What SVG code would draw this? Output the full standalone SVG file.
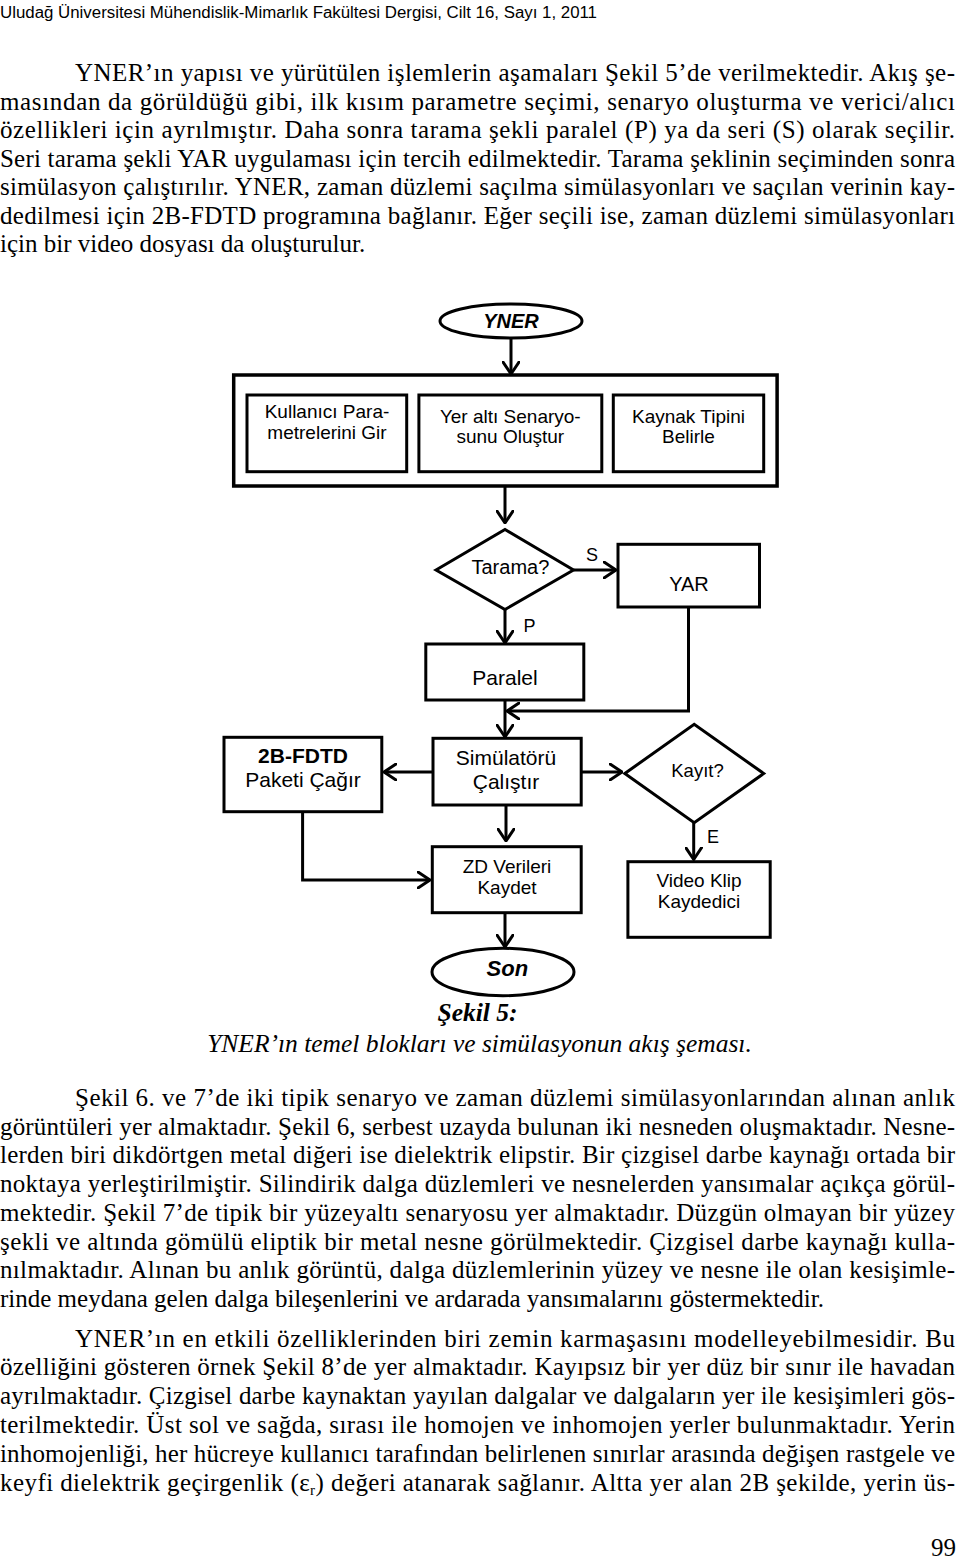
<svg xmlns="http://www.w3.org/2000/svg" width="960" height="1559" viewBox="0 0 960 1559">
<defs>
<style>
.body{font-family:"Liberation Serif","Times New Roman",serif;font-size:25px;fill:#000}
.hdr{font-family:"Liberation Sans",Arial,sans-serif;font-size:16px;fill:#000}
.box{fill:#fff;stroke:#000;stroke-width:3}
.lbl{font-family:"Liberation Sans",Arial,sans-serif;fill:#000;text-anchor:middle}
.f19{font-size:19px}
.f20{font-size:20px}
.f21{font-size:21px}
.bi{font-weight:bold;font-style:italic}
.b{font-weight:bold}
.edge{fill:none;stroke:#000;stroke-width:3}
.elbl{font-family:"Liberation Sans",Arial,sans-serif;font-size:18px;fill:#000}
.cap{font-family:"Liberation Serif","Times New Roman",serif;font-size:25.5px;font-style:italic;fill:#000}
</style>
<marker id="ah" viewBox="0 0 14 18" refX="13" refY="9" markerWidth="14" markerHeight="18" markerUnits="userSpaceOnUse" orient="auto">
<path d="M1,1 L13,9 L1,17" fill="none" stroke="#000" stroke-width="3" stroke-linecap="round" stroke-linejoin="round"/>
</marker>
</defs>
<rect width="960" height="1559" fill="#fff"/>

<g id="header">
<text class="hdr" x="0" y="18" textLength="597" lengthAdjust="spacingAndGlyphs">Uludağ Üniversitesi Mühendislik-Mimarlık Fakültesi Dergisi, Cilt 16, Sayı 1, 2011</text>
</g>

<g id="para1">
<text class="body" x="75" y="81" textLength="880" lengthAdjust="spacing">YNER’ın yapısı ve yürütülen işlemlerin aşamaları Şekil 5’de verilmektedir. Akış şe-</text>
<text class="body" x="0" y="109.5" textLength="955" lengthAdjust="spacing">masından da görüldüğü gibi, ilk kısım parametre seçimi, senaryo oluşturma ve verici/alıcı</text>
<text class="body" x="0" y="138" textLength="955" lengthAdjust="spacing">özellikleri için ayrılmıştır. Daha sonra tarama şekli paralel (P) ya da seri (S) olarak seçilir.</text>
<text class="body" x="0" y="166.5" textLength="955" lengthAdjust="spacing">Seri tarama şekli YAR uygulaması için tercih edilmektedir. Tarama şeklinin seçiminden sonra</text>
<text class="body" x="0" y="195" textLength="955" lengthAdjust="spacing">simülasyon çalıştırılır. YNER, zaman düzlemi saçılma simülasyonları ve saçılan verinin kay-</text>
<text class="body" x="0" y="223.5" textLength="955" lengthAdjust="spacing">dedilmesi için 2B-FDTD programına bağlanır. Eğer seçili ise, zaman düzlemi simülasyonları</text>
<text class="body" x="0" y="252">için bir video dosyası da oluşturulur.</text>
</g>

<g id="connectors">
<line class="edge" x1="511" y1="338" x2="511" y2="374" marker-end="url(#ah)"/>
<line class="edge" x1="505" y1="487" x2="505" y2="523" marker-end="url(#ah)"/>
<line class="edge" x1="573.5" y1="570" x2="616" y2="570" marker-end="url(#ah)"/>
<line class="edge" x1="505" y1="609.5" x2="505" y2="643" marker-end="url(#ah)"/>
<line class="edge" x1="505" y1="700" x2="505" y2="737" marker-end="url(#ah)"/>
<polyline class="edge" points="688.5,607 688.5,711 507,711" marker-end="url(#ah)"/>
<line class="edge" x1="433" y1="772" x2="384" y2="772" marker-end="url(#ah)"/>
<line class="edge" x1="581" y1="772" x2="622" y2="772" marker-end="url(#ah)"/>
<line class="edge" x1="506" y1="805" x2="506" y2="841" marker-end="url(#ah)"/>
<polyline class="edge" points="302.6,811.7 302.6,880 430,880" marker-end="url(#ah)"/>
<line class="edge" x1="693.7" y1="822.7" x2="693.7" y2="859.5" marker-end="url(#ah)"/>
<line class="edge" x1="505" y1="912.7" x2="505" y2="947" marker-end="url(#ah)"/>
<text class="elbl" x="586" y="561">S</text>
<text class="elbl" x="523.4" y="632">P</text>
<text class="elbl" x="707" y="843.3">E</text>
</g>

<g id="n-yner">
<ellipse class="box" cx="511" cy="321" rx="71" ry="17"/>
<text class="lbl f20 bi" x="511" y="328">YNER</text>
</g>

<g id="n-group">
<rect class="box" x="233.7" y="375" width="543.4" height="111" style="stroke-width:3.5"/>
</g>

<g id="n-kullanici">
<rect class="box" x="247" y="395" width="159.7" height="76.7"/>
<text class="lbl f19" x="327" y="418">Kullanıcı Para-</text>
<text class="lbl f19" x="327" y="439">metrelerini Gir</text>
</g>

<g id="n-senaryo">
<rect class="box" x="418.9" y="395" width="182.9" height="76.7"/>
<text class="lbl f19" x="510.3" y="423">Yer altı Senaryo-</text>
<text class="lbl f19" x="510.3" y="443">sunu Oluştur</text>
</g>

<g id="n-kaynak">
<rect class="box" x="613.3" y="395" width="150.4" height="76.7"/>
<text class="lbl f19" x="688.5" y="423">Kaynak Tipini</text>
<text class="lbl f19" x="688.5" y="443">Belirle</text>
</g>

<g id="n-tarama">
<polygon class="box" points="436,570 505,529.5 573.5,570 505,609.5"/>
<text class="lbl f20" x="510.4" y="574">Tarama?</text>
</g>

<g id="n-yar">
<rect class="box" x="618" y="544.3" width="141.5" height="62.7"/>
<text class="lbl f20" x="689" y="590.7">YAR</text>
</g>

<g id="n-paralel">
<rect class="box" x="425.8" y="644" width="158" height="56"/>
<text class="lbl f21" x="505" y="685">Paralel</text>
</g>

<g id="n-simulator">
<rect class="box" x="433" y="738.3" width="148.2" height="66.7"/>
<text class="lbl f21" x="506" y="765">Simülatörü</text>
<text class="lbl f21" x="506" y="789">Çalıştır</text>
</g>

<g id="n-fdtd">
<rect class="box" x="224" y="737.3" width="157.8" height="74.4"/>
<text class="lbl f21 b" x="303" y="762.7">2B-FDTD</text>
<text class="lbl f21" x="303" y="786.7">Paketi Çağır</text>
</g>

<g id="n-kayit">
<polygon class="box" points="624.8,773.5 694.2,724.3 763.7,773.5 694.2,822.7"/>
<text class="lbl" style="font-size:18.5px" x="697.5" y="777.3">Kayıt?</text>
</g>

<g id="n-zd">
<rect class="box" x="432.3" y="846.7" width="148.9" height="66"/>
<text class="lbl f19" x="507" y="873.3">ZD Verileri</text>
<text class="lbl f19" x="507" y="894">Kaydet</text>
</g>

<g id="n-video">
<rect class="box" x="627.9" y="861.7" width="142.3" height="75.6"/>
<text class="lbl f19" x="699" y="887.3">Video Klip</text>
<text class="lbl f19" x="699" y="908.3">Kaydedici</text>
</g>

<g id="n-son">
<ellipse class="box" cx="503" cy="972" rx="71" ry="23.7"/>
<text class="lbl bi" style="font-size:22px" x="507.4" y="975.7">Son</text>
</g>

<g id="caption">
<text class="cap" style="font-weight:bold" x="477.5" y="1020.7" text-anchor="middle">Şekil 5:</text>
<text class="cap" x="479.5" y="1052" text-anchor="middle">YNER’ın temel blokları ve simülasyonun akış şeması.</text>
</g>

<g id="para2">
<text class="body" x="75" y="1106" textLength="880" lengthAdjust="spacing">Şekil 6. ve 7’de iki tipik senaryo ve zaman düzlemi simülasyonlarından alınan anlık</text>
<text class="body" x="0" y="1134.7" textLength="955" lengthAdjust="spacing">görüntüleri yer almaktadır. Şekil 6, serbest uzayda bulunan iki nesneden oluşmaktadır. Nesne-</text>
<text class="body" x="0" y="1163.4" textLength="955" lengthAdjust="spacing">lerden biri dikdörtgen metal diğeri ise dielektrik elipstir. Bir çizgisel darbe kaynağı ortada bir</text>
<text class="body" x="0" y="1192.1" textLength="955" lengthAdjust="spacing">noktaya yerleştirilmiştir. Silindirik dalga düzlemleri ve nesnelerden yansımalar açıkça görül-</text>
<text class="body" x="0" y="1220.8" textLength="955" lengthAdjust="spacing">mektedir. Şekil 7’de tipik bir yüzeyaltı senaryosu yer almaktadır. Düzgün olmayan bir yüzey</text>
<text class="body" x="0" y="1249.5" textLength="955" lengthAdjust="spacing">şekli ve altında gömülü eliptik bir metal nesne görülmektedir. Çizgisel darbe kaynağı kulla-</text>
<text class="body" x="0" y="1278.2" textLength="955" lengthAdjust="spacing">nılmaktadır. Alınan bu anlık görüntü, dalga düzlemlerinin yüzey ve nesne ile olan kesişimle-</text>
<text class="body" x="0" y="1306.9">rinde meydana gelen dalga bileşenlerini ve ardarada yansımalarını göstermektedir.</text>
</g>

<g id="para3">
<text class="body" x="75" y="1346.5" textLength="880" lengthAdjust="spacing">YNER’ın en etkili özelliklerinden biri zemin karmaşasını modelleyebilmesidir. Bu</text>
<text class="body" x="0" y="1375.3" textLength="955" lengthAdjust="spacing">özelliğini gösteren örnek Şekil 8’de yer almaktadır. Kayıpsız bir yer düz bir sınır ile havadan</text>
<text class="body" x="0" y="1404.1" textLength="955" lengthAdjust="spacing">ayrılmaktadır. Çizgisel darbe kaynaktan yayılan dalgalar ve dalgaların yer ile kesişimleri gös-</text>
<text class="body" x="0" y="1432.9" textLength="955" lengthAdjust="spacing">terilmektedir. Üst sol ve sağda, sırası ile homojen ve inhomojen yerler bulunmaktadır. Yerin</text>
<text class="body" x="0" y="1461.7" textLength="955" lengthAdjust="spacing">inhomojenliği, her hücreye kullanıcı tarafından belirlenen sınırlar arasında değişen rastgele ve</text>
<text class="body" x="0" y="1490.5" textLength="955" lengthAdjust="spacing">keyfi dielektrik geçirgenlik (ε<tspan style="font-size:15px" dy="4">r</tspan><tspan dy="-4">) değeri atanarak sağlanır. Altta yer alan 2B şekilde, yerin üs-</tspan></text>
</g>

<g id="pagenum">
<text class="body" x="956" y="1556" text-anchor="end">99</text>
</g>
</svg>
